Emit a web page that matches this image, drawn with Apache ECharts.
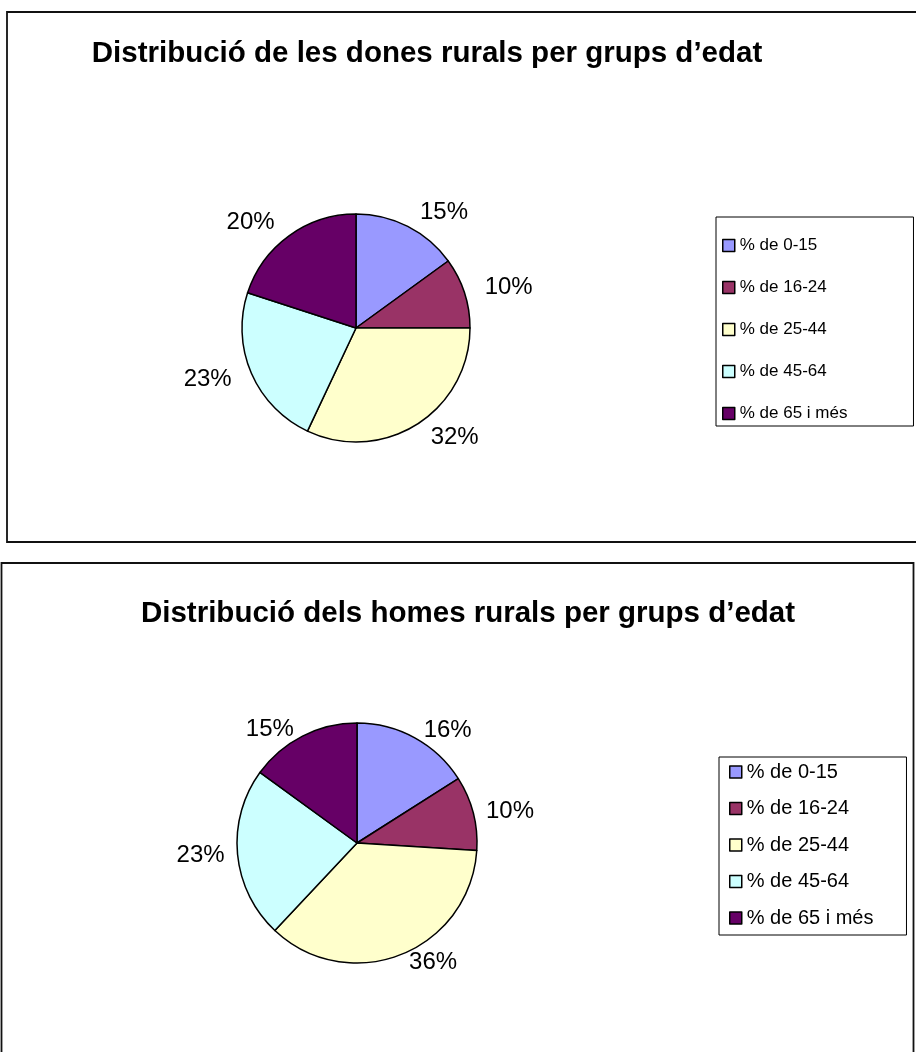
<!DOCTYPE html>
<html>
<head>
<meta charset="utf-8">
<script src="https://cdn.jsdelivr.net/npm/echarts@6/dist/echarts.min.js"></script>
<style>
  html, body { margin: 0; padding: 0; background: #fff; }
  #chart { width: 916px; height: 1052px; }
</style>
</head>
<body>
<div id="chart"></div>
<script>
const ageGroups = ["% de 0-15", "% de 16-24", "% de 25-44", "% de 45-64", "% de 65 i més"];
const womenShare = [15, 10, 32, 23, 20];
const menShare = [16, 10, 36, 23, 15];
const sliceColors = ["#9999FF", "#993366", "#FFFFCC", "#CCFFFF", "#660066"];

const titleWomen = "Distribució de les dones rurals per grups d’edat";
const titleMen = "Distribució dels homes rurals per grups d’edat";

const font = "'Liberation Sans', Arial, sans-serif";

const chart = echarts.init(document.getElementById("chart"));

function pieData(values) {
  return ageGroups.map((name, i) => ({
    name: name,
    value: values[i],
    itemStyle: { color: sliceColors[i] },
  }));
}

function pieSeries(values, center, radius, lineLen) {
  return {
    type: "pie",
    center: center,
    radius: radius,
    startAngle: 90,
    clockwise: true,
    animation: false,
    silent: true,
    data: pieData(values),
    itemStyle: { borderColor: "#000", borderWidth: 1.5 },
    label: {
      show: true,
      position: "outside",
      formatter: "{c}%",
      color: "#000",
      fontSize: 24,
      fontFamily: font,
    },
    labelLine: { show: false, length: lineLen, length2: 0 },
    emphasis: { disabled: true },
  };
}

function legendBox(top, left, fontSize, gap, padding) {
  return {
    orient: "vertical",
    left: left,
    top: top,
    data: ageGroups,
    icon: "rect",
    itemWidth: 12,
    itemHeight: 12,
    itemGap: gap,
    padding: padding,
    borderColor: "#000",
    borderWidth: 1,
    selectedMode: false,
    itemStyle: { borderColor: "#000", borderWidth: 1.5 },
    textStyle: { color: "#000", fontSize: fontSize, fontFamily: font },
  };
}

const titleStyle = { fontSize: 29.5, fontWeight: "bold", fontFamily: font, color: "#000" };

chart.setOption({
  backgroundColor: "#fff",
  title: [
    { text: titleWomen, left: 422, top: 34, textAlign: "center", textStyle: titleStyle },
    { text: titleMen, left: 463, top: 594, textAlign: "center", textStyle: titleStyle },
  ],
  legend: [
    legendBox(217, 716, 17, 25, [20, 66, 4, 6]),
    legendBox(757, 719, 20, 16.5, [5, 33, 7, 10]),
  ],
  graphic: [
    {
      type: "rect",
      shape: { x: 7, y: 12, width: 920, height: 530 },
      style: { fill: null, stroke: "#111", lineWidth: 1.8 },
      silent: true,
      z: -1,
    },
    {
      type: "rect",
      shape: { x: 1.5, y: 563, width: 912, height: 500 },
      style: { fill: null, stroke: "#111", lineWidth: 1.8 },
      silent: true,
      z: -1,
    },
  ],
  series: [
    pieSeries(womenShare, [356, 328], 114, 16),
    pieSeries(menShare, [357, 843], 120, 8),
  ],
});
</script>
</body>
</html>
